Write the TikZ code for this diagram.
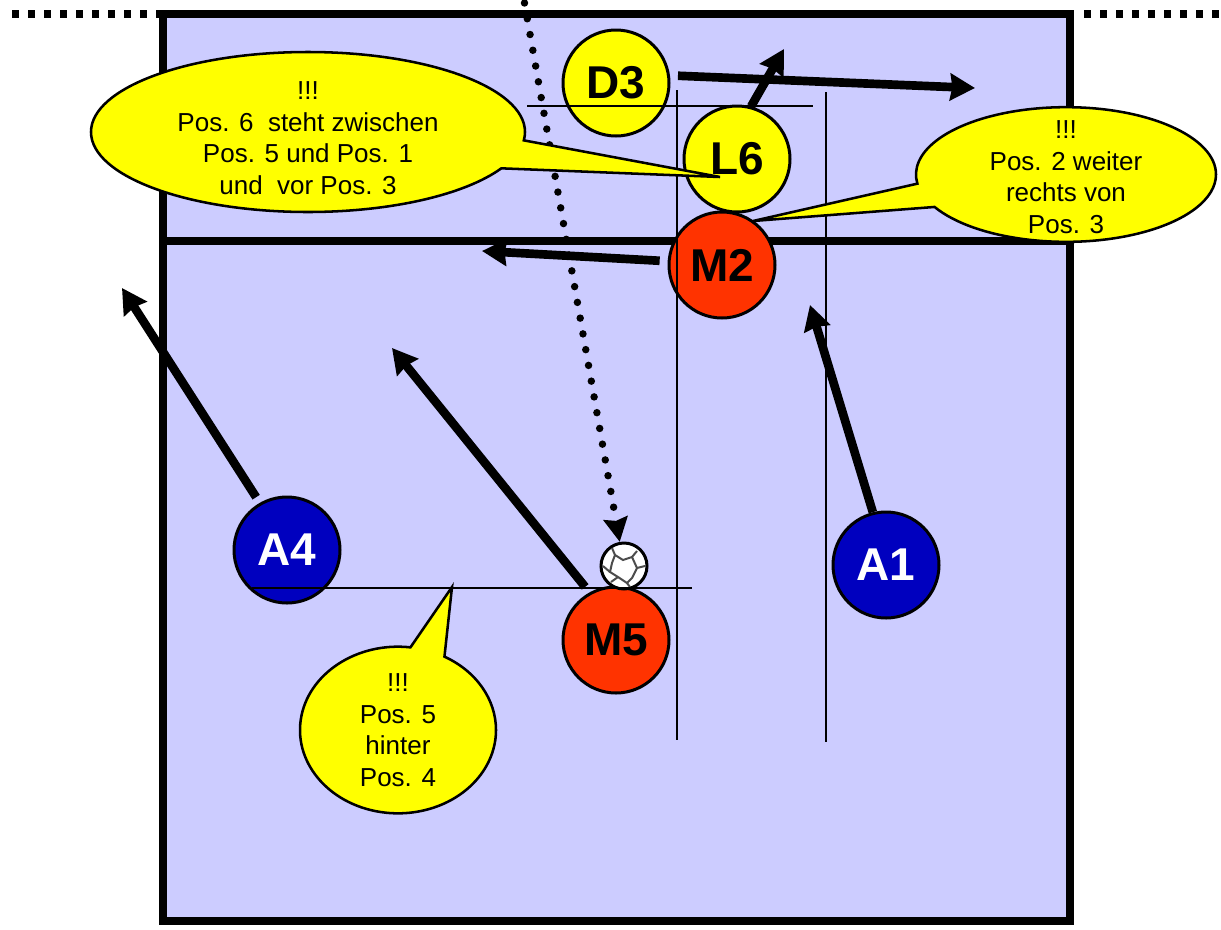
\documentclass[tikz,border=0pt]{standalone}
\usepackage{fontspec}
\setmainfont{Liberation Sans}
\usetikzlibrary{arrows.meta,shapes.callouts}

\definecolor{fieldblue}{RGB}{204,204,255}
\definecolor{posyellow}{RGB}{255,255,0}
\definecolor{posred}{RGB}{255,51,0}
\definecolor{posblue}{RGB}{0,0,191}

\tikzset{every picture/.style={line width=0.75pt}}
\tikzset{
  player/.style={circle,draw,line width=2.25pt,minimum size=79.5pt,inner sep=0pt,font=\fontsize{34.5}{36}\selectfont\bfseries},
  move/.style={line width=6.5pt,-{Stealth[length=18.5pt,width=20pt,inset=1.5pt]}},
  courtline/.style={line width=2pt},
  bubble/.style={shape=ellipse callout,draw,fill=posyellow,line width=1.9pt,inner sep=0pt,callout pointer arc=21},
  bubbletext/.style={align=center,inner sep=0pt,font=\fontsize{19.5}{23.7}\selectfont},
}

\begin{document}
\begin{tikzpicture}[x=0.75pt,y=0.75pt,yscale=-1,xscale=1]
	\useasboundingbox (0,0) rectangle (1221,929);

	%Shape: Field
	\draw [line width=6pt,fill=fieldblue] (162.5,14) rectangle (1070,921);
	%Straight Lines: net and middle line
	\draw [line width=6pt,dash pattern={on 5.25pt off 6.75pt}] (12,14) -- (162,14);
	\draw [line width=6pt,dash pattern={on 5.25pt off 6.75pt}] (1084,14) -- (1221,14);
	\draw [line width=6pt] (162,241) -- (1070,241);

	%Shape: Players
	\node [player,fill=posyellow] (D3) at (616,83) {D3};
	\node [player,fill=posyellow] (L6) at (737,159) {L6};
	\node [player,fill=posred] (M2) at (722,265) {M2};
	\node [player,fill=posred] (M5) at (616,640) {M5};
	\node [player,fill=posblue,text=white] (A4) at (287,550) {A4};
	\node [player,fill=posblue,text=white] (A1) at (886,565) {A1};

	%Shape: Ball
	\node [circle,draw,fill=white,line width=2.25pt,minimum size=34.5pt,inner sep=0pt] (ball) at (624,566) {};
	\draw [gray!60!black,line width=1.5pt] (615,555) -- (623,560) -- (632,557) -- (637,568) -- (632,578) -- (627,583) -- (618,577) -- (610,572) -- (612,563) -- cycle;
	\draw [gray!60!black,line width=1.5pt] (615,555) -- (612,548) (632,557) -- (637,551) (637,568) -- (645,566) (627,583) -- (630,587) (618,577) -- (611,582) (610,572) -- (603,566);

	%Straight Lines: ball path
	\coordinate (kick) at (524.5,3);
	\draw [line width=5.6pt,line cap=round,dash pattern={on 0pt off 12pt},-{Stealth[length=18pt,width=18pt,inset=2pt]}] (kick) -- (ball);

	%Straight Lines: runs
	\coordinate (D3run) at (975,88);
	\coordinate (L6run) at (784,49);
	\coordinate (M2run) at (482,251);
	\coordinate (M5run) at (392,348);
	\coordinate (A4run) at (122,288);
	\coordinate (A1run) at (810,305);
	\draw [move,shorten <=6pt] (D3.8) -- (D3run);
	\draw [move] (L6.75) -- (L6run);
	\draw [move,shorten <=6pt] (M2.176) -- (M2run);
	\draw [move,shorten <=5.25pt] (M5.119) -- (M5run);
	\draw [move,shorten <=5pt] (A4.120) -- (A4run);
	\draw [move] (A1.104) -- (A1run);

	%Straight Lines: position marks
	\draw [courtline] (527,106) -- (813,106);
	\draw [courtline] (677,90) -- (677,740);
	\draw [courtline] (826,92) -- (826,742);
	\draw [courtline] (252,588) -- (692,588);

	%Shape: Callouts
	\coordinate (L6tip) at (720,177);
	\coordinate (M2tip) at (753,221);
	\coordinate (marktip) at (452,587);
	\node [bubble,minimum width=325.5pt,minimum height=120pt,callout absolute pointer={(L6tip)}] (note6) at (308,132) {};
	\node [bubble,minimum width=225pt,minimum height=101pt,callout absolute pointer={(M2tip)}] (note2) at (1066,174.5) {};
	\node [bubble,minimum width=147pt,minimum height=125pt,callout absolute pointer={(marktip)}] (note5) at (398,730) {};
	\node [bubbletext] (note6text) at (308,138) {!!!\\Pos. 6~~steht zwischen\\Pos. 5 und Pos. 1\\und~~vor Pos. 3};
	\node [bubbletext] (note2text) at (1066,177) {!!!\\Pos. 2 weiter\\rechts von\\Pos. 3};
	\node [bubbletext] (note5text) at (398,730) {!!!\\Pos. 5\\hinter\\Pos. 4};
\end{tikzpicture}
\end{document}
